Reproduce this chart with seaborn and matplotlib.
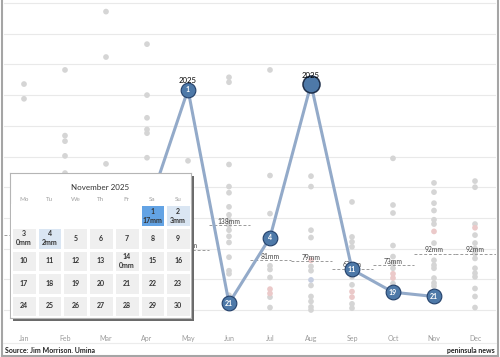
import numpy as np
import pandas as pd
import matplotlib
matplotlib.use('Agg')
import matplotlib.pyplot as plt
from matplotlib.colors import ListedColormap
from matplotlib.lines import Line2D
import seaborn as sns

months = ['Jan', 'Feb', 'Mar', 'Apr', 'May', 'Jun', 'Jul', 'Aug', 'Sep', 'Oct', 'Nov', 'Dec']

# monthly totals of earlier years (mm), grey dots
past_mm = {
    'Jan': [368, 344],
    'Feb': [391, 284, 275, 251, 223],
    'Mar': [486, 412, 238],
    'Apr': [433, 350, 313, 294, 288, 248],
    'May': [243],
    'Jun': [379, 371, 237, 201, 191, 168, 155, 147, 138, 130, 120, 110, 86, 64, 59, 24],
    'Jul': [391, 219, 157, 72, 66, 53, 21, 4],
    'Aug': [218, 201, 130, 118, 71, 64, 40, 22, 14, 5, 0],
    'Sep': [176, 119, 111, 103, 54, 41, 10, 3],
    'Oct': [247, 171, 158, 105, 87, 76, 68, 43],
    'Nov': [207, 192, 174, 162, 147, 140, 109, 81, 73, 68, 52, 44, 39],
    'Dec': [210, 200, 140, 122, 109, 100, 92, 84, 68, 60, 54, 35, 22, 4],
}
pink_mm = {'Jul': [34, 27], 'Aug': [81], 'Sep': [30, 21], 'Oct': [59, 52], 'Nov': [128], 'Dec': [134]}
blue_mm = {'Aug': [49]}

# 2025 totals; Jan-Apr sit behind the calendar pop-up
rain_2025 = [95, 210, 140, 160, 359, 11, 118, 368, 66, 29, 22, np.nan]
rank_2025 = ['', '', '', '', '1', '21', '4', '', '11', '19', '21', '']
big_marker = ['Aug']
year_label = ['May', 'Aug']
avg_mm = [122, 130, 140, 125, 98, 138, 81, 79, 67, 73, 92, 92]
avg_labelled = ['May', 'Jun', 'Jul', 'Aug', 'Sep', 'Oct', 'Nov', 'Dec']

cal_title = 'November 2025'
weekdays = ['Mo', 'Tu', 'We', 'Th', 'Fr', 'Sa', 'Su']
nov_first_weekday = 5
nov_days = 30
nov_rain = {1: 17, 2: 3, 3: 0, 4: 2, 14: 0}

plt.rcParams['font.family'] = ['Lato', 'DejaVu Sans']

W, H = 500, 357
fig = plt.figure(figsize=(5, 3.57), dpi=100)


def px_axes(x, y, w, h, **kw):
    return fig.add_axes([x / W, 1 - (y + h) / H, w / W, h / H], **kw)


rows = []
for tint, src in [('grey', past_mm), ('pink', pink_mm), ('blue', blue_mm)]:
    for m, vals in src.items():
        for v in vals:
            rows.append({'pos': months.index(m), 'mm': v, 'tint': tint})
dots = pd.DataFrame(rows)

ax = px_axes(3.5, 0, 492, 331)
ax.set_zorder(0)
sns.scatterplot(data=dots, x='pos', y='mm', hue='tint',
                palette={'grey': '#d5d5d5', 'pink': '#ebc9c9', 'blue': '#c6cee1'},
                s=17, linewidth=0, legend=False, ax=ax, zorder=2)

pos = np.arange(len(months))
ax.hlines(avg_mm, pos - 0.5, pos + 0.5, colors='#9a9a9a', linestyles=(0, (3, 2)), lw=0.7, zorder=3)
for i, v in enumerate(avg_mm):
    if months[i] in avg_labelled:
        ax.annotate(f'{v}mm', (i, v), xytext=(0, 3), textcoords='offset points',
                    ha='center', va='center', fontsize=4.9, color='#444', zorder=3)

sns.lineplot(x=pos, y=rain_2025, color='#93aac9', lw=2.2, ax=ax, zorder=4)
for i, (v, r) in enumerate(zip(rain_2025, rank_2025)):
    if np.isnan(v):
        continue
    big = months[i] in big_marker
    ax.scatter(i, v, s=150 if big else 112, color='#4e79a8',
               edgecolors='#1e2f4a' if big else '#23406a', linewidths=1.1 if big else 0.8, zorder=5)
    if r:
        ax.text(i, v, r, ha='center', va='center', fontsize=5, color='white',
                fontweight='bold', zorder=6)
    if months[i] in year_label:
        ax.annotate('2025', (i, v), xytext=(0, 6.5), textcoords='offset points',
                    ha='center', va='center', fontsize=5.6, color='black', zorder=6)

ax.set_xlim(-0.5, 11.5)
ax.set_ylim(-34.2, 504.9)
ax.set_xticks(pos, months)
ax.set_yticks(range(0, 501, 50))
ax.set_yticklabels([])
ax.grid(axis='y', color='#e9e9e9', lw=0.8)
ax.set_axisbelow(True)
ax.tick_params(length=0, labelsize=5, labelcolor='#9a9a9a')
ax.tick_params(axis='x', pad=3.2)
ax.set_xlabel('')
ax.set_ylabel('')
for s in ax.spines.values():
    s.set_visible(False)

# calendar pop-up
shadow = px_axes(12.5, 175.5, 181, 145)
shadow.set_zorder(1)
shadow.set_facecolor('#6a6a6a')
shadow.set_xticks([])
shadow.set_yticks([])
for s in shadow.spines.values():
    s.set_visible(False)

box = px_axes(10, 173, 181, 145)
box.set_zorder(2)
box.set_facecolor('white')
box.set_xticks([])
box.set_yticks([])
for s in box.spines.values():
    s.set_color('#b5b5b5')
    s.set_linewidth(0.8)

n_rows = 5
level = np.full((n_rows, 7), np.nan)
labels = np.full((n_rows, 7), '', dtype=object)
for d in range(1, nov_days + 1):
    k = nov_first_weekday + d - 1
    r, c = divmod(k, 7)
    if d in nov_rain:
        level[r, c] = np.digitize(nov_rain[d], [0.5, 10])
        labels[r, c] = f'{d}\n{nov_rain[d]}mm'
    else:
        level[r, c] = 0
        labels[r, c] = str(d)

hax = px_axes(11, 204.3, 180, 113)
hax.set_zorder(3)
sns.heatmap(level, mask=np.isnan(level), cmap=ListedColormap(['#efefef', '#dae6f3', '#63a3e4']),
            vmin=-0.5, vmax=2.5, cbar=False, annot=labels, fmt='',
            annot_kws={'fontsize': 5, 'color': '#333', 'fontweight': 'bold', 'linespacing': 1.35},
            linewidths=0.9, linecolor='white', xticklabels=weekdays, yticklabels=False, ax=hax)
hax.xaxis.tick_top()
hax.tick_params(length=0, pad=1.6, labelsize=4.5, labelcolor='#a0a0a0')
fig.text(100.5 / W, 1 - 188 / H, cal_title, ha='center', va='center', fontsize=5.8, color='#333')

# frame and footer
lc = '#a5a5a5'
fig.add_artist(Line2D([2 / W, 2 / W], [1 - 356 / H, 1], color=lc, lw=1.5))
fig.add_artist(Line2D([497.5 / W, 497.5 / W], [1 - 356 / H, 1], color=lc, lw=1.5))
fig.add_artist(Line2D([2 / W, 497.5 / W], [1 - 356 / H] * 2, color=lc, lw=1.5))
fig.add_artist(Line2D([3 / W, 496 / W], [1 - 343 / H] * 2, color='#ececec', lw=0.8))
fig.text(5 / W, 1 - 350.5 / H, 'Source: Jim Morrison. Umina', fontsize=5, fontweight='bold',
         color='#222', va='center')
fig.text(495 / W, 1 - 350.5 / H, 'peninsula news', fontsize=5, fontweight='bold',
         color='#222', va='center', ha='right')

fig.savefig('out.png', dpi=100)
